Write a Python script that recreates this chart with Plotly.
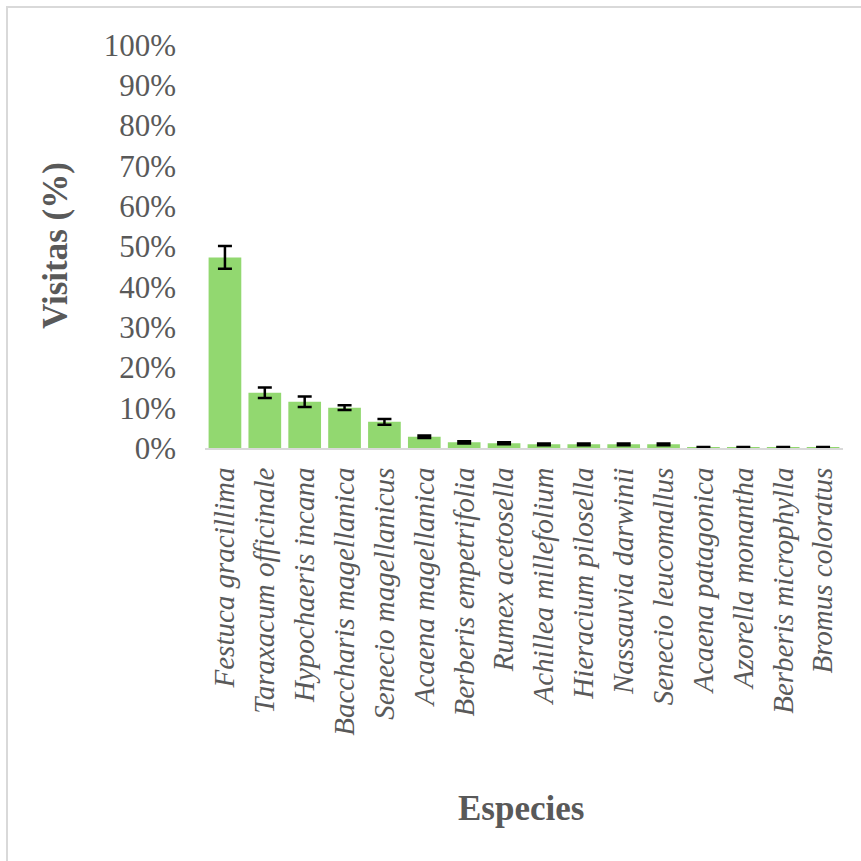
import plotly.graph_objects as go

# Species, mean share of visits (%) and error (±%)
species = [
    "Festuca gracillima", "Taraxacum officinale", "Hypochaeris incana",
    "Baccharis magellanica", "Senecio magellanicus", "Acaena magellanica",
    "Berberis empetrifolia", "Rumex acetosella", "Achillea millefolium",
    "Hieracium pilosella", "Nassauvia darwinii", "Senecio leucomallus",
    "Acaena patagonica", "Azorella monantha", "Berberis microphylla",
    "Bromus coloratus",
]
visits = [47.3, 13.7, 11.5, 10.0, 6.5, 2.8, 1.4, 1.2, 0.9, 0.9, 0.9, 0.9,
          0.15, 0.15, 0.15, 0.15]
errors = [2.8, 1.3, 1.3, 0.6, 0.7, 0.3, 0.3, 0.25, 0.2, 0.2, 0.2, 0.2,
          0.12, 0.12, 0.12, 0.12]
y_ticks = list(range(0, 101, 10))
y_tick_text = [f"{v}%" for v in y_ticks]

GREY = "#595959"
SERIF = "Liberation Serif, Times New Roman, serif"

W, H = 861, 861
L, R, T, B = 205, 18, 45, 413
pw, ph = W - L - R, H - T - B


def px_x(p):
    return (p - L) / pw


def px_y(p):
    return (H - B - p) / ph


fig = go.Figure(
    go.Bar(
        x=species,
        y=visits,
        marker=dict(color="#92D870", line=dict(width=0)),
        error_y=dict(type="data", array=errors, visible=True,
                     color="black", thickness=2.5, width=7),
        width=0.82,
    )
)

fig.update_layout(
    width=W, height=H,
    margin=dict(l=L, r=R, t=T, b=B),
    paper_bgcolor="white", plot_bgcolor="white",
    showlegend=False,
    font=dict(family=SERIF, color=GREY),
    xaxis=dict(
        tickmode="array", tickvals=species, ticktext=species,
        tickangle=-90,
        tickfont=dict(family=SERIF, size=29, color=GREY, style="italic"),
        showline=True, linecolor="#D9D9D9", linewidth=2,
        showgrid=False, ticks="", ticklabelstandoff=6,
    ),
    yaxis=dict(
        range=[0, 100],
        tickvals=y_ticks, ticktext=y_tick_text,
        tickfont=dict(family=SERIF, size=31, color=GREY),
        showline=False, showgrid=False, zeroline=False,
        ticks="", ticklabelstandoff=28,
    ),
    annotations=[
        dict(text="<b>Visitas (%)</b>", xref="paper", yref="paper",
             x=px_x(55), y=px_y(246), textangle=-90, showarrow=False,
             font=dict(family=SERIF, size=35, color=GREY),
             xanchor="center", yanchor="middle"),
        dict(text="<b>Especies</b>", xref="paper", yref="paper",
             x=px_x(521), y=px_y(808), showarrow=False,
             font=dict(family=SERIF, size=35, color=GREY),
             xanchor="center", yanchor="middle"),
    ],
    shapes=[
        dict(type="rect", xref="paper", yref="paper",
             x0=px_x(7), x1=px_x(880), y0=px_y(880), y1=px_y(7),
             line=dict(color="#D9D9D9", width=2), layer="below"),
    ],
)

fig.write_html("out.html")
